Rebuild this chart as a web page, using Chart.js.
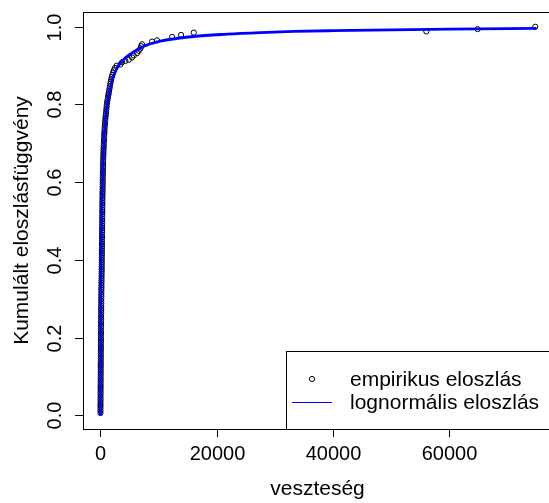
<!DOCTYPE html>
<html>
<head>
<meta charset="utf-8">
<title>Kumulált eloszlásfüggvény</title>
<script src="https://cdn.jsdelivr.net/npm/chart.js@4.4.1/dist/chart.umd.min.js"></script>
<style>
    html, body { margin: 0; padding: 0; background: #ffffff; overflow: hidden; }
    canvas { display: block; }
</style>
</head>
<body>
<canvas id="cdfChart" width="560" height="503"></canvas>
<script>
// Empirical distribution: loss amounts and their cumulative share
const empiricalX = [
    2, 4, 6, 9, 11, 13, 15, 18, 20, 23, 25, 27, 29, 32, 35, 37, 39, 42, 45, 47, 50,
    52, 55, 58, 60, 63, 66, 68, 71, 74, 77, 80, 83, 86, 89, 92, 95, 98, 101, 104, 108,
    111, 115, 118, 122, 126, 129, 133, 137, 141, 145, 150, 154, 158, 163, 168, 173, 178, 184, 190, 197, 205, 214,
    216, 219, 224, 229, 233, 236, 241, 245, 249, 252, 257, 261, 266, 269, 273, 278,
    281, 286, 290, 293, 298, 301, 306, 310, 313, 318, 322, 326, 329, 334, 338, 343,
    350, 356, 362, 369, 378, 385, 392, 398, 405, 412, 420, 428, 438, 446, 455, 462,
    470, 485, 500, 515, 530, 545, 560, 580, 600, 620, 640, 665,
    690, 700, 730, 760, 790, 820, 860, 900, 940, 980, 1020, 1060, 1100, 1150, 1220,
    1300, 1360, 1420, 1490, 1560, 1630, 1700, 1770, 1850, 1950, 2050, 2170, 2300, 2500, 2800,
    3440, 3730, 4300, 4870, 5440, 5730, 6300, 6590, 6880, 7000, 7160,
    8880, 9740, 12320, 13870, 16050, 56040, 64860, 74780
];
const empiricalY = [
    0.006, 0.012, 0.018, 0.024, 0.029, 0.035, 0.041, 0.047, 0.053, 0.059, 0.065, 0.071, 0.076, 0.082, 0.088, 0.094, 0.100, 0.106, 0.112, 0.118, 0.124,
    0.129, 0.135, 0.141, 0.147, 0.153, 0.159, 0.165, 0.171, 0.176, 0.182, 0.188, 0.194, 0.200, 0.206, 0.212, 0.218, 0.224, 0.229, 0.235, 0.241,
    0.247, 0.253, 0.259, 0.265, 0.271, 0.276, 0.282, 0.288, 0.294, 0.300, 0.306, 0.312, 0.318, 0.324, 0.329, 0.335, 0.341, 0.347, 0.353, 0.359, 0.365, 0.371,
    0.376, 0.382, 0.388, 0.394, 0.400, 0.406, 0.412, 0.418, 0.424, 0.429, 0.435, 0.441, 0.447, 0.453, 0.459, 0.465,
    0.471, 0.476, 0.482, 0.488, 0.494, 0.500, 0.506, 0.512, 0.518, 0.524, 0.529, 0.535, 0.541, 0.547, 0.553, 0.559,
    0.565, 0.571, 0.576, 0.582, 0.588, 0.594, 0.600, 0.606, 0.612, 0.618, 0.624, 0.629, 0.635, 0.641, 0.647, 0.653,
    0.659, 0.665, 0.671, 0.676, 0.682, 0.688, 0.694, 0.700, 0.706, 0.712, 0.718, 0.724,
    0.729, 0.735, 0.741, 0.747, 0.753, 0.759, 0.765, 0.771, 0.776, 0.782, 0.788, 0.794, 0.800, 0.806, 0.812,
    0.818, 0.824, 0.829, 0.835, 0.841, 0.847, 0.853, 0.859, 0.865, 0.871, 0.876, 0.882, 0.888, 0.894, 0.900,
    0.903, 0.909, 0.912, 0.915, 0.921, 0.926, 0.932, 0.938, 0.944, 0.950, 0.955,
    0.962, 0.965, 0.974, 0.979, 0.985, 0.988, 0.994, 1.000
];

// Fitted lognormal CDF
const lognormalX = [0, 8, 25, 50, 90, 150, 250, 380, 570, 800, 1030, 1720, 2580, 3730, 5440, 7450,
    10300, 16000, 21800, 27500, 33200, 40000, 50000, 60000, 75000];
const lognormalY = [0, 0.05, 0.15, 0.25, 0.33, 0.42, 0.52, 0.62, 0.70, 0.75, 0.787, 0.847, 0.886, 0.912, 0.933, 0.950,
    0.963, 0.975, 0.981, 0.985, 0.988, 0.990, 0.992, 0.994, 0.996];

// Axes and labels
const xTicks = [0, 20000, 40000, 60000];
const yTicks = [0.0, 0.2, 0.4, 0.6, 0.8, 1.0];
const xTitle = 'veszteség';
const yTitle = 'Kumulált eloszlásfüggvény';
const legendLabels = ['empirikus eloszlás', 'lognormális eloszlás'];

const TICK_FONT = '20px "Liberation Sans", Arial, sans-serif';
const TEXT_FONT = '21px "Liberation Sans", Arial, sans-serif';
const LINE_BLUE = '#0000ff';

/**
 * Draws the R style frame, ticks, axis titles and legend
 */
const baseGraphics = {
    id: 'baseGraphics',
    afterDraw(chart) {
        const ctx = chart.ctx;
        const area = chart.chartArea;
        const xScale = chart.scales.x;
        const yScale = chart.scales.y;
        const tickLen = 8;

        ctx.save();
        ctx.strokeStyle = '#000000';
        ctx.lineWidth = 1;
        ctx.fillStyle = '#000000';

        // plot frame
        ctx.strokeRect(Math.round(area.left) + 0.5, Math.round(area.top) + 0.5,
            Math.round(area.right - area.left), Math.round(area.bottom - area.top));

        // x axis
        ctx.font = TICK_FONT;
        ctx.textAlign = 'center';
        ctx.textBaseline = 'middle';
        xTicks.forEach(v => {
            const px = Math.round(xScale.getPixelForValue(v)) + 0.5;
            ctx.beginPath();
            ctx.moveTo(px, area.bottom);
            ctx.lineTo(px, area.bottom + tickLen);
            ctx.stroke();
            ctx.fillText(String(v), px, 454);
        });

        // y axis, labels rotated like R does
        yTicks.forEach(v => {
            const py = Math.round(yScale.getPixelForValue(v)) + 0.5;
            ctx.beginPath();
            ctx.moveTo(area.left, py);
            ctx.lineTo(area.left - tickLen, py);
            ctx.stroke();
            ctx.save();
            ctx.translate(55, py);
            ctx.rotate(-Math.PI / 2);
            ctx.fillText(v.toFixed(1), 0, 0);
            ctx.restore();
        });

        ctx.font = TEXT_FONT;
        ctx.fillText(xTitle, (area.left + area.right) / 2 - 1, 489);
        ctx.save();
        ctx.translate(22, (area.top + area.bottom) / 2);
        ctx.rotate(-Math.PI / 2);
        ctx.fillText(yTitle, 0, 0);
        ctx.restore();

        // legend in the bottom right corner
        const boxLeft = 286.5;
        const boxTop = 351.5;
        ctx.fillStyle = '#ffffff';
        ctx.fillRect(boxLeft, boxTop, area.right - boxLeft, area.bottom - boxTop);
        ctx.strokeRect(boxLeft, boxTop, area.right - boxLeft + 5, Math.round(area.bottom) - boxTop + 0.5);

        ctx.beginPath();
        ctx.arc(312, 379, 2.6, 0, Math.PI * 2);
        ctx.stroke();

        ctx.strokeStyle = LINE_BLUE;
        ctx.beginPath();
        ctx.moveTo(292, 402.5);
        ctx.lineTo(332, 402.5);
        ctx.stroke();

        ctx.fillStyle = '#000000';
        ctx.textAlign = 'left';
        ctx.fillText(legendLabels[0], 350, 380);
        ctx.fillText(legendLabels[1], 350, 403);
        ctx.restore();
    }
};

const empiricalPoints = empiricalX.map((x, i) => ({ x, y: empiricalY[i] }));
const lognormalPoints = lognormalX.map((x, i) => ({ x, y: lognormalY[i] }));

const ctx = document.getElementById('cdfChart').getContext('2d');

new Chart(ctx, {
    type: 'scatter',
    data: {
        datasets: [
            {
                label: legendLabels[1],
                data: lognormalPoints,
                showLine: true,
                borderColor: LINE_BLUE,
                borderWidth: 2.8,
                pointRadius: 0,
                cubicInterpolationMode: 'monotone',
                order: 0
            },
            {
                label: legendLabels[0],
                data: empiricalPoints,
                showLine: false,
                pointRadius: 2.6,
                pointBorderWidth: 1,
                pointBorderColor: '#000000',
                pointBackgroundColor: 'rgba(0,0,0,0)',
                order: 1
            }
        ]
    },
    options: {
        responsive: false,
        animation: false,
        devicePixelRatio: 1,
        layout: {
            padding: { left: 83, top: 12, right: 6, bottom: 74 }
        },
        plugins: {
            legend: { display: false },
            title: { display: false },
            tooltip: { enabled: false }
        },
        scales: {
            x: { type: 'linear', display: false, min: -3000, max: 78000 },
            y: { type: 'linear', display: false, min: -0.035, max: 1.038 }
        }
    },
    plugins: [baseGraphics]
});
</script>
</body>
</html>
